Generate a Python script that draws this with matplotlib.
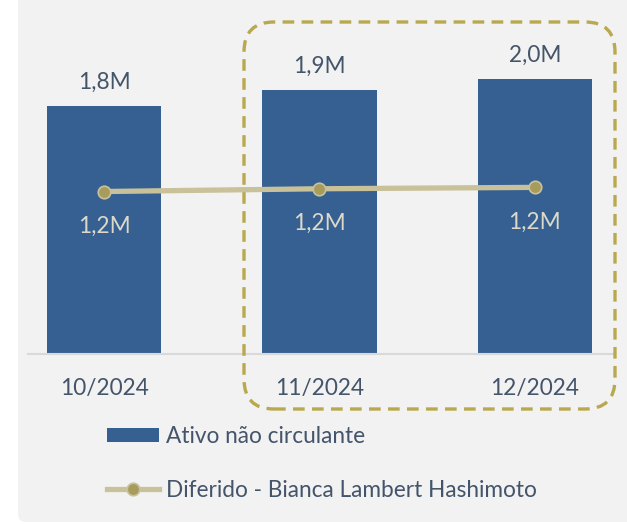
import matplotlib
matplotlib.use("Agg")
import matplotlib.pyplot as plt
from matplotlib.patches import FancyBboxPatch, Patch
from matplotlib.lines import Line2D

categories = ["10/2024", "11/2024", "12/2024"]
ativo = [1.80, 1.92, 2.00]
ativo_labels = ["1,8M", "1,9M", "2,0M"]
diferido = [1.18, 1.20, 1.21]
diferido_labels = ["1,2M", "1,2M", "1,2M"]
series_names = ["Ativo não circulante", "Diferido - Bianca Lambert Hashimoto"]

plt.rcParams['font.family'] = ['Lato', 'DejaVu Sans']
TXT = "#44546a"
BAR = "#366092"
LINE = "#c9c19a"
MK = "#a89c5c"
BOX = "#b8a94f"
INNER = "#dcd9c8"
FS = 16.3

W, H = 627, 524
fig = plt.figure(figsize=(W/100, H/100), dpi=100)
fig.patch.set_facecolor("white")

# gray panel
panel = FancyBboxPatch((18, 2), 700, 700, boxstyle="round,pad=0,rounding_size=8",
                       transform=None, facecolor="#f2f2f2", edgecolor="none", zorder=-10)
fig.patches.append(panel)

ax = fig.add_axes([28/W, (H-354)/H, (614-28)/W, 354/H])
ax.set_facecolor("none")
ax.set_zorder(1)
x = list(range(len(categories)))
ax.bar(x, ativo, width=0.53, color=BAR, zorder=2)
ax.plot(x, diferido, color=LINE, lw=3.8, marker="o", ms=9, mfc=MK, mec=LINE, mew=1.2, zorder=3)

for xi, v, lab in zip(x, ativo, ativo_labels):
    ax.annotate(lab, (xi, v), xytext=(0, 17), textcoords="offset points",
                ha="center", va="center", fontsize=FS, color=TXT)
for xi, v, lab in zip(x, diferido, diferido_labels):
    ax.annotate(lab, (xi, v), xytext=(0, -25), textcoords="offset points",
                ha="center", va="center", fontsize=FS, color=INNER)

ax.set_xlim(-0.353, 2.367)
ax.set_ylim(0, 354/137.7)
ax.set_xticks(x)
ax.set_xticklabels(categories, fontsize=FS, color=TXT)
ax.tick_params(axis="x", length=0, pad=17)
ax.set_yticks([])
for s in ["top", "right", "left"]:
    ax.spines[s].set_visible(False)
ax.spines["bottom"].set_color("#d9d9d9")
ax.spines["bottom"].set_linewidth(1.5)

# dashed highlight box (display px coords, origin bottom-left)
box = FancyBboxPatch((244, H-409), 615-244, 409-22, boxstyle="round,pad=0,rounding_size=30",
                     transform=None, facecolor="none", edgecolor=BOX, lw=2.4,
                     linestyle=(0, (3.5, 2.2)), zorder=5)
fig.patches.append(box)

handles = [Patch(facecolor=BAR, edgecolor="none"),
           Line2D([], [], color=LINE, lw=3.8, marker="o", ms=9, mfc=MK, mec=LINE, mew=1.2)]
leg = fig.legend(handles, series_names, loc="upper left", bbox_to_anchor=(107/W, 1-426/H),
                 frameon=False, fontsize=FS, labelcolor=TXT, handlelength=2.3,
                 handleheight=0.6, handletextpad=0.3, labelspacing=1.45,
                 borderpad=0, borderaxespad=0)

fig.savefig("out.png", dpi=100, facecolor=fig.get_facecolor())
